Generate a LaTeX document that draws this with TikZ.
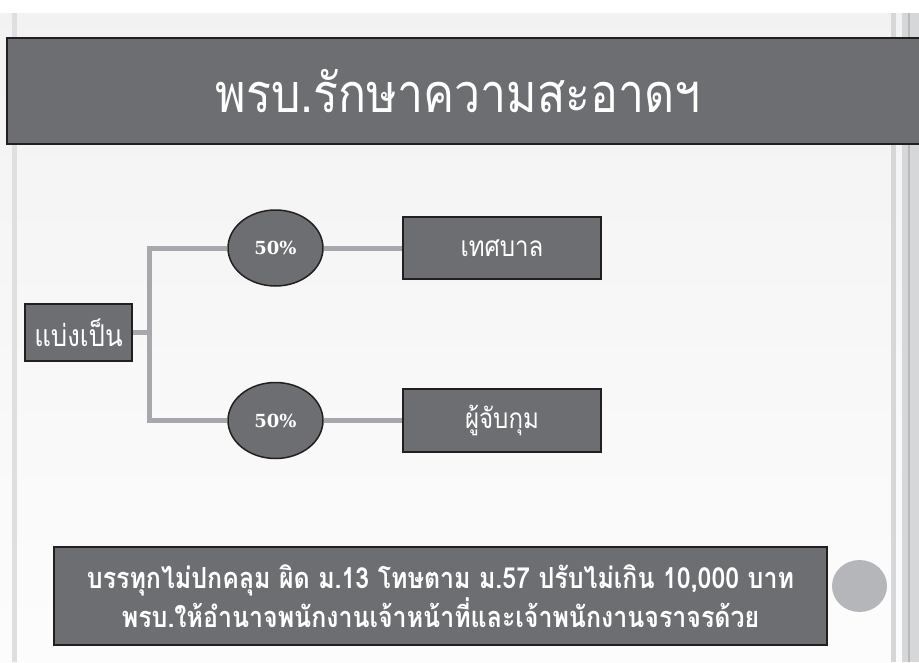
\documentclass[tikz,border=0pt]{standalone}
\usepackage{fontspec}
\newfontfamily\thaifont[Script=Thai]{Loma}
\newfontfamily\numfont{DejaVu Serif}
\usetikzlibrary{positioning,shapes.geometric,calc}
\definecolor{cBar}{HTML}{6D6E72}
\definecolor{cEdge}{HTML}{231F20}
\definecolor{cLink}{HTML}{A7A8AB}
\definecolor{cStripe}{HTML}{D6D7D9}
\definecolor{cStripeD}{HTML}{B8B9BB}
\definecolor{cDot}{HTML}{B5B6BA}
\newcommand{\narrow}[1]{\scalebox{0.86}[1]{#1}}
\tikzset{
  box/.style={rectangle, draw=cEdge, fill=cBar, line width=1.5pt, text=white,
              inner sep=0pt, align=center},
  pct/.style={ellipse, draw=cEdge, fill=cBar, line width=1.5pt, text=white,
              inner sep=0pt, minimum width=95pt, minimum height=76pt,
              font=\numfont\bfseries\fontsize{18}{18}\selectfont},
  link/.style={cLink, line width=5pt},
}
\begin{document}
\begin{tikzpicture}[x=1pt, y=-1pt]
    \useasboundingbox (0,0) rectangle (919,662);
    % slide background
    \fill[white] (0,0) rectangle (919,662);
    \shade[top color=black!5, bottom color=black!1] (0,13) rectangle (919,662);
    \fill[cStripe!80] (12,13) rectangle (17,662);
    \fill[cStripe] (891,13) rectangle (896,662);
    \fill[cStripe] (902,13) rectangle (919,662);
    \fill[cStripeD] (907.5,13) rectangle (910,662);
    % title bar
    \node[box, minimum width=918pt, minimum height=106pt,
          font=\thaifont\fontsize{54}{54}\selectfont] (title) at (466,91)
      {\narrow{พรบ.รักษาความสะอาดฯ}\hspace*{16pt}};
    % tree
    \node[box, minimum width=107pt, minimum height=57pt,
          font=\thaifont\fontsize{30}{30}\selectfont] (split) at (78.5,332.5)
      {\narrow{แบ่งเป็น}};
    \node[pct] (pa) at (275.5,248) {50\%};
    \node[pct] (pb) at (275.5,420.5) {50\%};
    \node[box, minimum width=198pt, minimum height=62pt,
          font=\thaifont\fontsize{28}{28}\selectfont] (muni) at (502,248)
      {\narrow{เทศบาล}};
    \node[box, minimum width=198pt, minimum height=63pt,
          font=\thaifont\fontsize{28}{28}\selectfont] (arrest) at (502,420.5)
      {\narrow{ผู้จับกุม}};
    \coordinate (fork) at (149,332.5);
    \draw[link] (split.east) -- (fork);
    \draw[link] (fork) |- (pa.west);
    \draw[link] (fork) |- (pb.west);
    \draw[link] (pa.east) -- (muni.west);
    \draw[link] (pb.east) -- (arrest.west);
    % penalty note
    \node[box, minimum width=773pt, minimum height=98pt,
          font=\thaifont\bfseries\fontsize{29}{32}\selectfont] (note) at (440.5,596)
      {\narrow{บรรทุกไม่ปกคลุม ผิด ม.13 โทษตาม ม.57 ปรับไม่เกิน 10,000 บาท}\\
       \narrow{พรบ.ให้อำนาจพนักงานเจ้าหน้าที่และเจ้าพนักงานจราจรด้วย}};
    \node[ellipse, fill=cDot, minimum width=55pt, minimum height=52pt] (dot) at (859.5,586) {};
\end{tikzpicture}
\end{document}
